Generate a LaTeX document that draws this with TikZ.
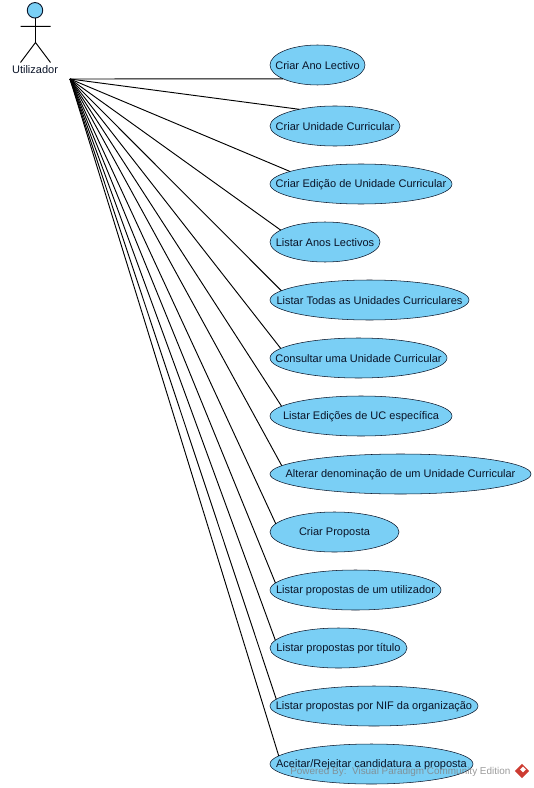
\documentclass[tikz,border=0pt]{standalone}
\usepackage{fontspec}
\setmainfont{Liberation Sans}
\usetikzlibrary{shapes.geometric}
\definecolor{ucblue}{RGB}{122,207,245}
\definecolor{ucline}{RGB}{10,20,40}
\definecolor{wmgray}{RGB}{130,130,130}
\definecolor{wmred}{RGB}{205,60,50}
\tikzset{
    usecase/.style={ellipse, draw=ucline, fill=ucblue, inner sep=0pt, outer sep=0pt, minimum height=30pt},
    uctext/.style={font=\fontsize{8.25}{10}\selectfont, text=ucline, yshift=-0.75pt},
    assoc/.style={draw=black, line width=0.7pt},
    stick/.style={draw=black, line width=0.7pt}
}

\begin{document}
\begin{tikzpicture}[x=0.75pt, y=-0.75pt]
        \useasboundingbox (0, 0) rectangle (534, 788);

        % Actor
        \node[circle, draw=ucline, fill=ucblue, line width=0.7pt, inner sep=0pt, minimum size=11.6pt] (head) at (35, 10.3) {};
        \coordinate (neck) at (35.5, 18);
        \coordinate (hip) at (35.5, 42.5);
        \coordinate (armL) at (20.5, 26.3);
        \coordinate (armR) at (50.5, 26.3);
        \coordinate (footL) at (20.5, 62.5);
        \coordinate (footR) at (50.5, 62.5);
        \draw[stick] (neck) -- (hip) (armL) -- (armR) (footL) -- (hip) -- (footR);
        \node[uctext, yshift=0.75pt] (actor) at (35, 70) {Utilizador};
        \coordinate (origin) at (70, 79);

        % Use cases: name/center x/center y/width/line angle/text
        \foreach \name/\cx/\cy/\wid/\ang/\txt in {
            ano/317.5/65/95/202.7/Criar Ano Lectivo,
            unidade/335/126/130/155.3/Criar Unidade Curricular,
            edicao/361/184/182/170.7/Criar Edição de Unidade Curricular,
            anos/325/242/110/165.6/Listar Anos Lectivos,
            todas/369.5/300/199/174.2/Listar Todas as Unidades Curriculares,
            consultar/358.5/358/177/173.5/Consultar uma Unidade Curricular,
            edicoes/361/416/182/173.9/Listar Edições de UC específica,
            alterar/400.5/474/261/176.3/Alterar denominação de um Unidade Curricular,
            proposta/334.5/532/129/172.3/Criar Proposta,
            utilizador/355.5/590/171/175/Listar propostas de um utilizador,
            titulo/338.5/648/137/173.8/Listar propostas por título,
            nif/374/706/208/176/Listar propostas por NIF da organização,
            aceitar/371.5/764/203/175.3/{Aceitar/Rejeitar candidatura a proposta}} {
            \node[usecase, minimum width=\wid*0.75pt, label={[uctext]center:\txt}] (\name) at (\cx, \cy) {};
            \draw[assoc] (origin) -- (\name.\ang);
        }

        % Watermark
        \node[font=\fontsize{7.45}{9}\selectfont, text=wmgray, text opacity=0.8, anchor=west, inner sep=0pt] (mark) at (290, 772) {Powered By:\ \ Visual Paradigm Community Edition};
        \node[diamond, fill=wmred, inner sep=0pt, minimum size=11pt] (logo) at (522, 771) {};
        \node[diamond, fill=white, inner sep=0pt, minimum size=4.5pt] (logomark) at (523, 769.5) {};
    \end{tikzpicture}
\end{document}
